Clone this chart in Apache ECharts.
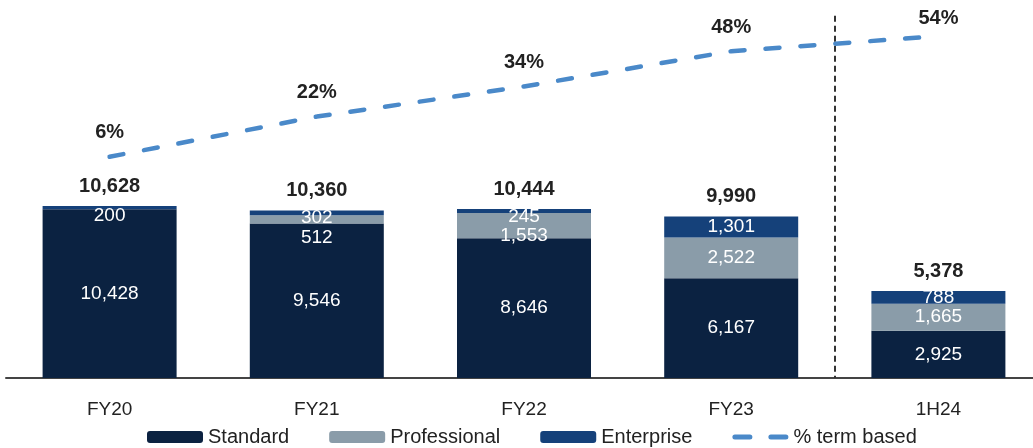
<!DOCTYPE html>
<html>
<head>
<meta charset="utf-8">
<script src="https://cdn.jsdelivr.net/npm/echarts@6/dist/echarts.min.js"></script>
<style>
html,body{margin:0;padding:0;background:#fff;overflow:hidden;width:1033px;height:448px;}
#chart{width:1043px;height:448px;}
</style>
</head>
<body>
<div id="chart"></div>
<script>
const categories = ['FY20', 'FY21', 'FY22', 'FY23', '1H24'];
const standard = [10428, 9546, 8646, 6167, 2925];
const professional = [0, 512, 1553, 2522, 1665];
const enterprise = [200, 302, 245, 1301, 788];
const termBased = [6, 22, 34, 48, 54];

// styling only: vertical label nudges for crowded small segments
const profLabelShift = [0, 18, 10, 0, 0];
const entLabelShift = [8, 5, 6, 0, 0];
const termLabelShift = [0, 0, 0, 0, 6];

const totals = categories.map((_, i) => standard[i] + professional[i] + enterprise[i]);

const FONT = 'Liberation Sans, Arial, sans-serif';
const C_STD = '#0b2241', C_PRO = '#8a9ca9', C_ENT = '#15417a', C_LINE = '#4a89c9';

function fmt(v) { return v ? v.toLocaleString('en-US') : ''; }

function items(arr, shift) {
  return arr.map((v, i) => ({ value: v, label: { offset: [0, shift ? shift[i] : 0] } }));
}

const insideLabel = {
  show: true, position: 'inside', color: '#fff', fontSize: 19, fontFamily: FONT,
  formatter: p => fmt(p.value)
};

const dashIcon = 'path://M0,0 M56,12 ' +
  'M2.5,3.5 L17.5,3.5 A2.5,2.5 0 0 1 17.5,8.5 L2.5,8.5 A2.5,2.5 0 0 1 2.5,3.5 Z ' +
  'M38.5,3.5 L53.5,3.5 A2.5,2.5 0 0 1 53.5,8.5 L38.5,8.5 A2.5,2.5 0 0 1 38.5,3.5 Z';

const chart = echarts.init(document.getElementById('chart'));
chart.setOption({
  animation: false,
  textStyle: { fontFamily: FONT },
  grid: { left: 6, right: 1, top: 6, bottom: 70, containLabel: false },
  legend: {
    data: ['Standard', 'Professional', 'Enterprise', {
      name: '% term based', icon: dashIcon,
      itemStyle: { color: C_LINE }
    }],
    left: 142, top: 422,
    itemWidth: 56, itemHeight: 12, itemGap: 40,
    textStyle: { fontSize: 20, color: '#222', fontFamily: FONT }
  },
  xAxis: [{
    type: 'category', data: categories,
    axisLine: { lineStyle: { color: '#444', width: 2 } },
    axisTick: { show: false },
    axisLabel: { fontSize: 19, color: '#222', margin: 22, fontFamily: FONT }
  }, {
    type: 'value', min: -0.5, max: 4.5, show: false
  }],
  yAxis: [{
    type: 'value', min: 0, max: 23000, show: false, splitLine: { show: false }
  }, {
    type: 'value', min: -82, max: 66, show: false, splitLine: { show: false }
  }],
  series: [
    {
      name: 'Standard', type: 'bar', stack: 'a', barWidth: 134,
      itemStyle: { color: C_STD }, label: insideLabel, data: items(standard)
    },
    {
      name: 'Professional', type: 'bar', stack: 'a', barWidth: 134,
      itemStyle: { color: C_PRO }, label: insideLabel, data: items(professional, profLabelShift)
    },
    {
      name: 'Enterprise', type: 'bar', stack: 'a', barWidth: 134,
      itemStyle: { color: C_ENT }, label: insideLabel, data: items(enterprise, entLabelShift)
    },
    {
      name: 'Total', type: 'bar', barWidth: 134, barGap: '-100%', z: 1,
      itemStyle: { color: 'rgba(0,0,0,0)' },
      label: {
        show: true, position: 'top', distance: 10, color: '#222', fontSize: 20,
        fontWeight: 'bold', fontFamily: FONT, formatter: p => fmt(p.value)
      },
      data: totals
    },
    {
      name: '% term based', type: 'line', yAxisIndex: 1,
      symbol: 'none', z: 5,
      lineStyle: { color: C_LINE, width: 4.5, type: [14, 21], cap: 'round' },
      itemStyle: { color: C_LINE },
      data: termBased
    },
    {
      name: 'termLabels', type: 'line', yAxisIndex: 1,
      symbol: 'circle', symbolSize: 0, showSymbol: true, z: 6,
      lineStyle: { width: 0, opacity: 0 },
      itemStyle: { color: C_LINE, opacity: 1 },
      label: {
        show: true, position: 'top', distance: 14, color: '#222', fontSize: 20,
        fontWeight: 'bold', fontFamily: FONT, formatter: p => p.value + '%'
      },
      data: items(termBased, termLabelShift)
    },
    {
      name: 'divider', type: 'line', xAxisIndex: 1, yAxisIndex: 0, data: [],
      markLine: {
        silent: true, symbol: ['none', 'none'],
        label: { show: false },
        lineStyle: { color: '#333', type: [6, 4], width: 2 },
        data: [[{ coord: [3.5, 22400] }, { coord: [3.5, 0] }]]
      }
    }
  ]
});
</script>
</body>
</html>
